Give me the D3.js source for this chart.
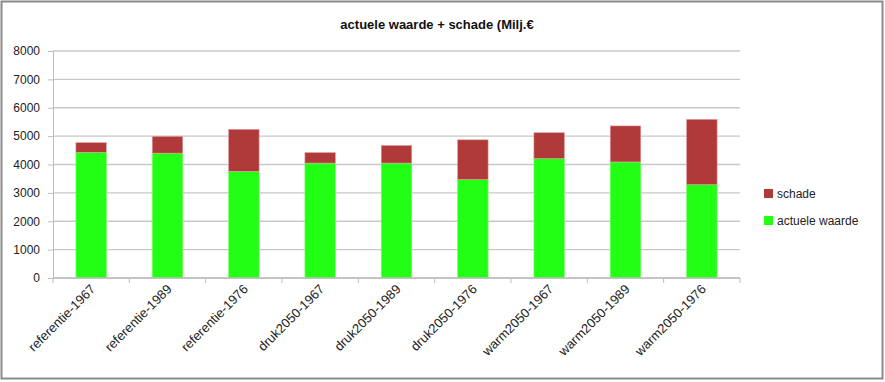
<!DOCTYPE html>
<html>
<head>
<meta charset="utf-8">
<script src="https://cdn.jsdelivr.net/npm/d3@7"></script>
<style>
  body { margin: 0; background: #fff; }
  svg { display: block; font-family: "Liberation Sans", Arial, sans-serif; }
</style>
</head>
<body>
<svg id="chart" width="885" height="382"></svg>
<script>
// data
var categories = ["referentie-1967", "referentie-1989", "referentie-1976",
  "druk2050-1967", "druk2050-1989", "druk2050-1976",
  "warm2050-1967", "warm2050-1989", "warm2050-1976"];
var actueleWaarde = [4430, 4400, 3760, 4050, 4050, 3470, 4210, 4090, 3290];
var schade = [340, 590, 1480, 370, 620, 1400, 910, 1270, 2300];
var yTicks = [0, 1000, 2000, 3000, 4000, 5000, 6000, 7000, 8000];

var svg = d3.select("#chart");

// outer frame
svg.append("rect")
  .attr("x", 1.5).attr("y", 1.5)
  .attr("width", 881).attr("height", 377)
  .attr("fill", "#fff")
  .attr("stroke", "#8a8a8a")
  .attr("stroke-width", 2);

var margin = { left: 53, right: 145, top: 51, bottom: 104 };
var width = 885 - margin.left - margin.right;
var height = 382 - margin.top - margin.bottom;

var g = svg.append("g").attr("transform", "translate(" + margin.left + "," + margin.top + ")");

var x = d3.scaleBand().domain(categories).range([0, width]).paddingInner(0.6).paddingOuter(0.3);
var y = d3.scaleLinear().domain([0, 8000]).range([height, 0]);

// gridlines
g.selectAll(".grid")
  .data(yTicks)
  .enter()
  .append("line")
  .attr("x1", 0).attr("x2", width)
  .attr("y1", function (d) { return y(d); })
  .attr("y2", function (d) { return y(d); })
  .attr("stroke", "#c8c8c8")
  .attr("stroke-width", 1.3);

// y axis
var yAxis = g.append("g")
  .call(d3.axisLeft(y).tickValues(yTicks).tickFormat(d3.format("d")).tickSize(5).tickPadding(8));
yAxis.select(".domain").attr("stroke", "#bdbdbd");
yAxis.selectAll(".tick line").attr("stroke", "#bdbdbd");
yAxis.selectAll("text").attr("font-size", 12).attr("fill", "#222");

// stacked bars
var rows = categories.map(function (c, i) {
  return { cat: c, actuele: actueleWaarde[i], schade: schade[i] };
});
var stack = d3.stack().keys(["actuele", "schade"])(rows);
var colors = { actuele: "#22ff14", schade: "#b03a3a" };

g.selectAll(".series")
  .data(stack)
  .enter()
  .append("g")
  .attr("fill", function (s) { return colors[s.key]; })
  .attr("stroke", function (s) { return s.key === "schade" ? "#e0a0a0" : "#7dff70"; })
  .attr("stroke-width", 0.6)
  .selectAll("rect")
  .data(function (s) { return s; })
  .enter()
  .append("rect")
  .attr("x", function (d) { return x(d.data.cat); })
  .attr("y", function (d) { return y(d[1]); })
  .attr("width", x.bandwidth())
  .attr("height", function (d) { return y(d[0]) - y(d[1]); });

// x axis (ticks at band boundaries)
var step = x.step();
g.append("line")
  .attr("x1", 0).attr("x2", width)
  .attr("y1", height).attr("y2", height)
  .attr("stroke", "#bdbdbd").attr("stroke-width", 1.3);
g.selectAll(".xtick")
  .data(d3.range(categories.length + 1))
  .enter()
  .append("line")
  .attr("x1", function (i) { return i * step; })
  .attr("x2", function (i) { return i * step; })
  .attr("y1", height).attr("y2", height + 5)
  .attr("stroke", "#bdbdbd");

g.selectAll(".xlabel")
  .data(categories)
  .enter()
  .append("text")
  .attr("transform", function (d) {
    return "translate(" + (x(d) + x.bandwidth() / 2 + 5) + "," + (height + 12) + ") rotate(-45)";
  })
  .attr("text-anchor", "end")
  .attr("font-size", 13)
  .attr("fill", "#222")
  .text(function (d) { return d; });

// title
svg.append("text")
  .attr("x", 437).attr("y", 29)
  .attr("text-anchor", "middle")
  .attr("font-size", 13)
  .attr("font-weight", "bold")
  .attr("fill", "#111")
  .text("actuele waarde + schade (Milj.€");

// legend
var legend = [
  { label: "schade", key: "schade" },
  { label: "actuele waarde", key: "actuele" }
];
var lg = svg.selectAll(".legend")
  .data(legend)
  .enter()
  .append("g")
  .attr("transform", function (d, i) { return "translate(764," + (189 + i * 27) + ")"; });
lg.append("rect")
  .attr("width", 9).attr("height", 9)
  .attr("fill", function (d) { return colors[d.key]; });
lg.append("text")
  .attr("x", 13).attr("y", 9)
  .attr("font-size", 12)
  .attr("fill", "#222")
  .text(function (d) { return d.label; });
</script>
</body>
</html>
